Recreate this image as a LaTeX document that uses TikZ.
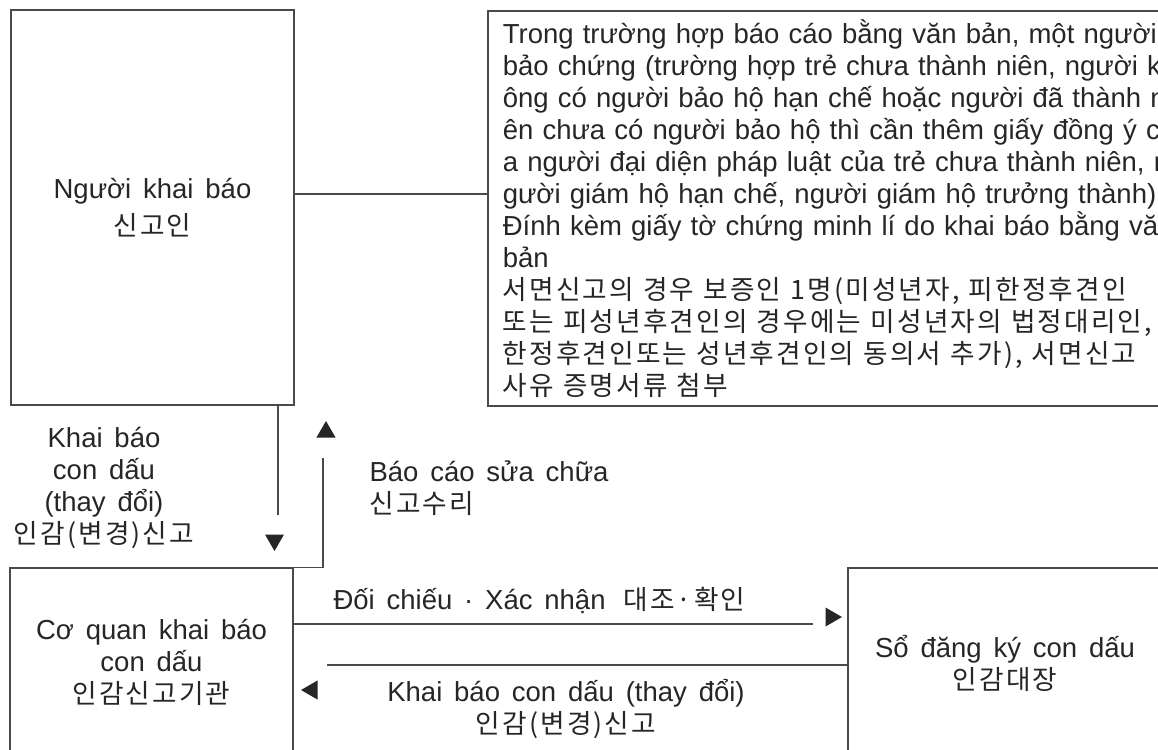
\documentclass[tikz,border=0pt]{standalone}
\usepackage{fontspec}
\setmainfont{Liberation Sans}[WordSpace=1.55]
\newfontfamily\krfont{Noto Sans CJK KR}[Scale=0.97,LetterSpace=8,WordSpace=1.6]
\newcommand{\kr}[1]{{\krfont #1}}
\usetikzlibrary{shapes.geometric}
\definecolor{linegray}{HTML}{4A4A4A}
\definecolor{inkgray}{HTML}{262626}

\begin{document}
\begin{tikzpicture}[x=1pt, y=-1pt,
	every node/.style = { font=\fontsize{27.5}{32}\selectfont, text=inkgray },
	box/.style = { draw=linegray, line width=1.6pt, align=center, inner sep=0pt },
	link/.style = { draw=linegray, line width=1.4pt },
	tip/.style = { regular polygon, regular polygon sides=3, fill=inkgray, minimum size=22pt, inner sep=0pt }]
	\useasboundingbox (0,0) rectangle (1158,749);
	\clip (0,0) rectangle (1158,749);
	\fill [white] (0,0) rectangle (1158,749);

	\node [box, minimum width=283, minimum height=395, font=\fontsize{27.5}{37}\selectfont] (nguoi) at (152.5,207.5) { Người khai báo \\ \kr{신고인} };
	\node [box, anchor=north west, minimum height=395, text width=720, align=left, inner xsep=15] (giay) at (487,10) {
		Trong trường hợp báo cáo bằng văn bản, một người \\
		bảo chứng (trường hợp trẻ chưa thành niên, người kh \\
		ông có người bảo hộ hạn chế hoặc người đã thành ni \\
		ên chưa có người bảo hộ thì cần thêm giấy đồng ý củ \\
		a người đại diện pháp luật của trẻ chưa thành niên, n \\
		gười giám hộ hạn chế, người giám hộ trưởng thành) \\
		Đính kèm giấy tờ chứng minh lí do khai báo bằng văn \\
		bản \\
		\kr{서면신고의 경우 보증인 1명(미성년자, 피한정후견인} \\
		\kr{또는 피성년후견인의 경우에는 미성년자의 법정대리인,} \\
		\kr{한정후견인또는 성년후견인의 동의서 추가), 서면신고} \\
		\kr{사유 증명서류 첨부}
	};
	\node [box, minimum width=283, minimum height=188] (coquan) at (151.5,662) { Cơ quan khai báo \\ con dấu \\ \kr{인감신고기관} };
	\node [box, minimum width=314, minimum height=190] (daejang) at (1005,663) { Sổ đăng ký con dấu \\ \kr{인감대장} };

	\node [align=center] (khaibao) at (104,488) { Khai báo \\ con dấu \\ (thay đổi) \\ \kr{인감(변경)신고} };
	\node [align=left, anchor=west] (suachua) at (366,488) { Báo cáo sửa chữa \\ \kr{신고수리} };
	\node [anchor=west] (doichieu) at (330,600) { Đối chiếu · Xác nhận\hspace{18pt}\kr{대조·확인} };
	\node [align=center] (thaydoi) at (566,709) { Khai báo con dấu (thay đổi) \\ \kr{인감(변경)신고} };

	\node [tip, shape border rotate=180] (xuong) at (274.5,540) {};
	\node [tip] (len) at (326,432) {};
	\node [tip, shape border rotate=-90] (phai) at (831,617) {};
	\node [tip, shape border rotate=90] (trai) at (312,690) {};

	\coordinate (d1) at (278,515);
	\coordinate (u1) at (323,458);
	\coordinate (r1) at (813,624);
	\coordinate (l1) at (327,665);
	\draw [link] (nguoi.east |- 0,194) -- (giay.west |- 0,194);
	\draw [link] (nguoi.south -| d1) -- (d1);
	\draw [link] (coquan.north east) -| (u1);
	\draw [link] (coquan.east |- r1) -- (r1);
	\draw [link] (daejang.west |- l1) -- (l1);
\end{tikzpicture}
\end{document}
